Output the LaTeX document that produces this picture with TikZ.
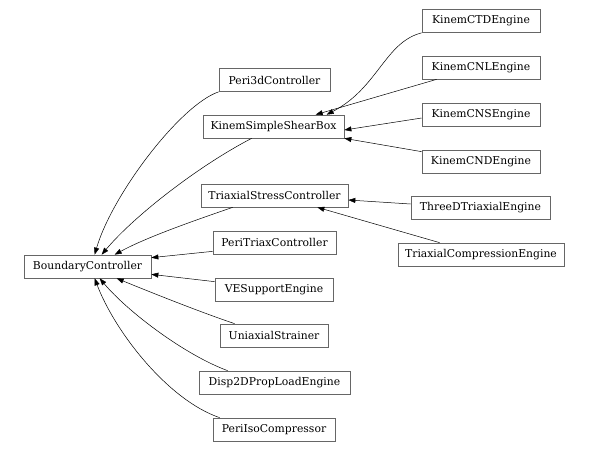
\documentclass[tikz,border=0pt]{standalone}
\usepackage{fontspec}
\setmainfont{DejaVu Serif}
\usetikzlibrary{arrows.meta}
\tikzset{
  cls/.style={draw=black!60, line width=0.7pt, rectangle, minimum height=23pt, inner sep=0pt, font=\fontsize{10.8}{12}\selectfont, text=black},
  inh/.style={draw=black, line width=0.5pt, -{Triangle[length=7pt,width=5pt]}}
}
\begin{document}
\begin{tikzpicture}[x=1pt,y=-1pt]
\useasboundingbox (0,0) rectangle (589,451);
% nodes
\node[cls, minimum width=127pt] (bc)   at (87.5,266.5) {BoundaryController};
\node[cls, minimum width=111pt] (p3d)  at (274.5,80)   {Peri3dController};
\node[cls, minimum width=141pt] (kssb) at (273.5,126.5) {KinemSimpleShearBox};
\node[cls, minimum width=147pt] (tsc)  at (274.5,195.5) {TriaxialStressController};
\node[cls, minimum width=123pt] (ptc)  at (274.5,242.5) {PeriTriaxController};
\node[cls, minimum width=118pt] (ves)  at (274,289.5)  {VESupportEngine};
\node[cls, minimum width=108pt] (uni)  at (274,335.5)  {UniaxialStrainer};
\node[cls, minimum width=151pt] (d2d)  at (274.5,382.5) {Disp2DPropLoadEngine};
\node[cls, minimum width=122pt] (pic)  at (274,429.5)  {PeriIsoCompressor};
\node[cls, minimum width=118pt] (ctd)  at (481,21)     {KinemCTDEngine};
\node[cls, minimum width=118pt] (cnl)  at (481,67.5)   {KinemCNLEngine};
\node[cls, minimum width=118pt] (cns)  at (481,114.5)  {KinemCNSEngine};
\node[cls, minimum width=118pt] (cnd)  at (481,161.5)  {KinemCNDEngine};
\node[cls, minimum width=139pt] (tdt)  at (480.5,208)  {ThreeDTriaxialEngine};
\node[cls, minimum width=166pt] (tce)  at (481,254.5)  {TriaxialCompressionEngine};
% edges to BoundaryController
\draw[inh] (p3d.south west) .. controls (180,105) and (112,195) .. ([xshift=71pt]bc.north west);
\draw[inh] ([xshift=49pt]kssb.south west) .. controls (200,165) and (135,215) .. ([xshift=78pt]bc.north west);
\draw[inh] ([xshift=32pt]tsc.south west) .. controls (190,222) and (145,238) .. ([xshift=91pt]bc.north west);
\draw[inh] ([yshift=3pt]ptc.south west) -- ([yshift=-3pt]bc.north east);
\draw[inh] ([yshift=-4pt]ves.north west) -- ([yshift=4pt]bc.south east);
\draw[inh] ([xshift=15pt]uni.north west) .. controls (200,312) and (150,292) .. ([xshift=93pt]bc.south west);
\draw[inh] ([xshift=29pt]d2d.north west) .. controls (185,355) and (128,312) .. ([xshift=76pt]bc.south west);
\draw[inh] ([xshift=7pt]pic.north west) .. controls (168,400) and (115,332) .. ([xshift=71pt]bc.south west);
% edges to KinemSimpleShearBox
\draw[inh] (ctd.south west) .. controls (385,42) and (378,88) .. ([xshift=124pt]kssb.north west);
\draw[inh] ([xshift=15pt]cnl.south west) -- ([xshift=113pt]kssb.north west);
\draw[inh] ([yshift=-3.5pt]cns.west) -- ([yshift=-3.5pt]kssb.east);
\draw[inh] ([yshift=-2pt]cnd.north west) -- (kssb.south east);
% edges to TriaxialStressController
\draw[inh] ([yshift=4pt]tdt.west) -- ([yshift=-4.5pt]tsc.east);
\draw[inh] ([xshift=42pt]tce.north west) -- ([xshift=-31pt]tsc.south east);
\end{tikzpicture}
\end{document}
